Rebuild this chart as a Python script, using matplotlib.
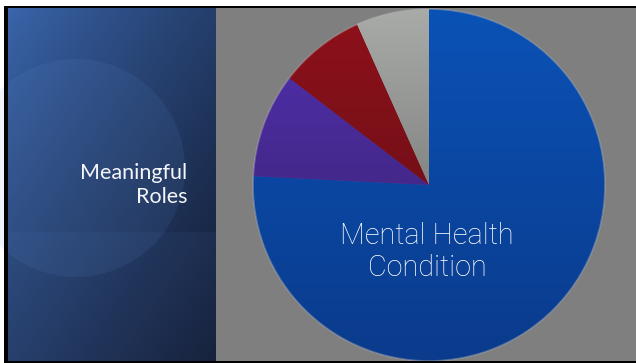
import numpy as np
import matplotlib
matplotlib.use("Agg")
import matplotlib.pyplot as plt
from matplotlib.patches import Rectangle, Circle
from matplotlib.colors import LinearSegmentedColormap

# ---- data ----
categories = ["Mental Health Condition", "Other 1", "Other 2", "Other 3"]
values = [75.8, 9.6, 7.9, 6.7]
top_colors = ["#0b52b6", "#5230b4", "#8e111b", "#a9aba9"]
bottom_colors = ["#0a3b8c", "#36205f", "#5c0e14", "#5f605f"]
side_title = "Meaningful\nRoles"
pie_label = "Mental Health\nCondition"

W, H = 636, 363
fig = plt.figure(figsize=(W / 100, H / 100), dpi=100, facecolor="white")
ax = fig.add_axes([0, 0, 1, 1])


def Y(y):
    return H - y


# left panel gradient
nx, ny = 200, 200
xx, yy = np.meshgrid(np.linspace(0, 1, nx), np.linspace(0, 1, ny))
t = np.clip((xx * 0.9 + yy * 1.0) / 1.9, 0, 1) ** 0.85
c0 = np.array([58, 102, 172]) / 255
c1 = np.array([18, 27, 50]) / 255
img = c0[None, None, :] * (1 - t[..., None]) + c1[None, None, :] * t[..., None]
ax.imshow(img, extent=[8, 216, Y(361), Y(8)], origin="upper", aspect="auto", zorder=1)
# decorative band + circle
ax.add_patch(Rectangle((8, Y(361)), 208, 361 - 232, color="#5a86cc", alpha=0.08, lw=0, zorder=2))
ax.add_patch(Circle((76, Y(168)), 109, color="#6a98dd", alpha=0.10, lw=0, zorder=2))

# right gray panel
ax.add_patch(Rectangle((216, Y(361)), W - 216, 361 - 8, color="#7f7f7f", lw=0, zorder=1))

# pie
cx, cy, r = 429, Y(185), 176
wedges, _ = ax.pie(values, center=(cx, cy), radius=r, startangle=90,
                   counterclock=False, colors=top_colors,
                   wedgeprops=dict(linewidth=0))
grad = np.linspace(0, 1, 256)[:, None]
for w, ct, cb in zip(wedges, top_colors, bottom_colors):
    w.set_zorder(3)
    cmap = LinearSegmentedColormap.from_list("g", [ct, cb])
    im = ax.imshow(grad, extent=[cx - r, cx + r, cy - r, cy + r], origin="upper",
                   cmap=cmap, aspect="auto", zorder=4)
    im.set_clip_path(w)
ax.add_patch(Circle((cx, cy), r, fill=False, ec="#b0b0b0", lw=1.2, alpha=0.45, zorder=5))

ax.text(427, Y(252), pie_label, ha="center", va="center", color="white",
        fontsize=20.8, family="Roboto", fontweight="light", linespacing=1.22, zorder=6)
ax.text(187, Y(185), side_title, ha="right", va="center", color="#f4f6fa",
        fontsize=15.5, family="Lato", fontweight="normal", linespacing=1.3, zorder=6)

# borders
ax.add_patch(Rectangle((4, Y(8)), W - 4, 2, color="black", lw=0, zorder=7))
ax.add_patch(Rectangle((4, 0), 4, Y(6), color="black", lw=0, zorder=7))
ax.add_patch(Rectangle((4, 0), W - 4, 2, color="black", lw=0, zorder=7))

ax.set_xlim(0, W)
ax.set_ylim(0, H)
ax.set_aspect("auto")
ax.axis("off")
fig.savefig("out.png", dpi=100, facecolor="white")
